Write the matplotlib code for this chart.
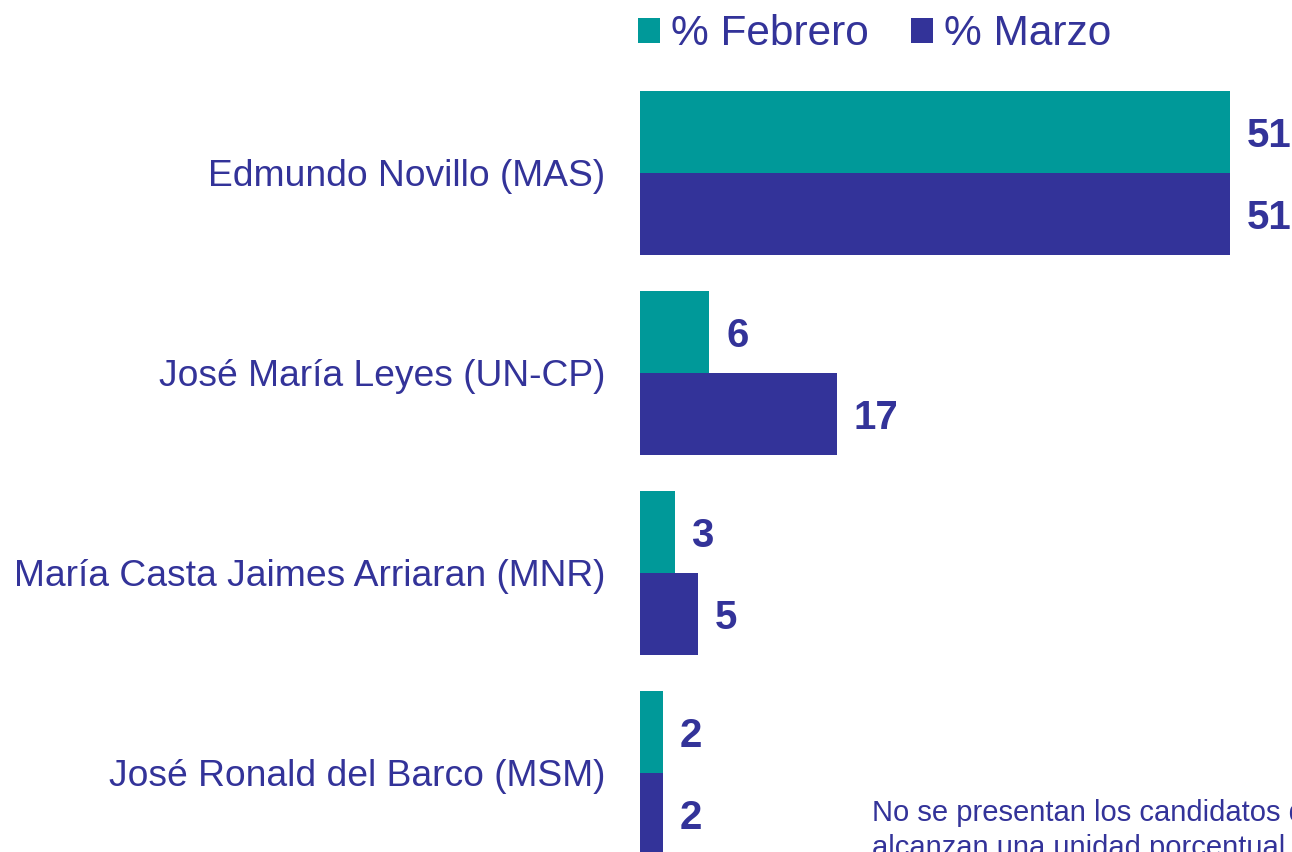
import matplotlib.pyplot as plt
import numpy as np

plt.rcParams['font.family'] = ['Liberation Sans', 'DejaVu Sans']

candidates = ["Edmundo Novillo (MAS)", "José María Leyes (UN-CP)",
              "María Casta Jaimes Arriaran (MNR)", "José Ronald del Barco (MSM)"]
febrero = [51, 6, 3, 2]
marzo = [51, 17, 5, 2]

TEAL = '#009999'
NAVY = '#333399'

fig = plt.figure(figsize=(12.92, 8.52), dpi=100)
ax = fig.add_axes([640 / 1292, 0, 652 / 1292, 1])
ax.set_xlim(0, 652 / 11.57)
ax.set_ylim(3.395, -0.865)
ax.axis('off')

y = np.arange(len(candidates))
h = 0.41
ax.barh(y - h / 2, febrero, height=h, color=TEAL, label='% Febrero')
ax.barh(y + h / 2, marzo, height=h, color=NAVY, label='% Marzo')

dy = 0.02  # small nudge so text sits visually centred
for yi, f, m in zip(y, febrero, marzo):
    ax.text(f + 1.45, yi - h / 2 + dy, str(f), va='center', ha='left',
            fontsize=29, fontweight='bold', color=NAVY)
    ax.text(m + 1.45, yi + h / 2 + dy, str(m), va='center', ha='left',
            fontsize=29, fontweight='bold', color=NAVY)
    ax.text(-3.0, yi + dy, candidates[yi], va='center', ha='right',
            fontsize=26.8, color=NAVY, clip_on=False)

fig.legend(loc='upper left', bbox_to_anchor=(632 / 1292, 1 - 8 / 852), ncol=2,
           frameon=False, fontsize=30.5, labelcolor=NAVY, handlelength=0.52,
           handleheight=0.52, handletextpad=0.25, columnspacing=1.0,
           borderaxespad=0.0, borderpad=0.15)

fig.text(872 / 1292, 1 - 799 / 852,
         "No se presentan los candidatos que no\nalcanzan una unidad porcentual",
         va='top', ha='left', fontsize=21, color=NAVY, linespacing=1.3)

plt.savefig('out.png', dpi=100)
